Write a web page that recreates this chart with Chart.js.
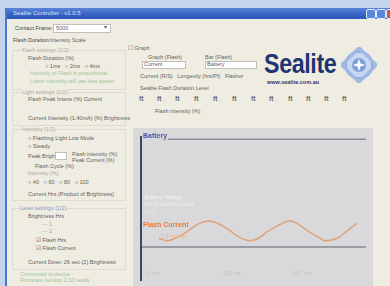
<!DOCTYPE html>
<html>
<head>
<meta charset="utf-8">
<script src="https://cdn.jsdelivr.net/npm/chart.js@4/dist/chart.umd.min.js"></script>
<style>
  body { margin: 0; width: 390px; height: 286px; overflow: hidden; background: #c3d5ee; font-family: "Liberation Sans", Arial, sans-serif; }
  #page { position: absolute; left: 0; top: 0; width: 390px; height: 286px; filter: blur(0.45px); }
  .win { position: absolute; left: 5px; top: 8px; width: 400px; height: 290px; background: #efede1; border-left: 2px solid #4f76cf; }
  .title { position: absolute; left: 0; top: 0; width: 400px; height: 11px; background: linear-gradient(#5b84d8, #3562c4 60%, #2f59b8); }
  .title span { position: absolute; left: 6px; top: 2px; color: #dfe8fa; font-size: 6px; }
  .btn { position: absolute; top: 1px; width: 8px; height: 8px; border-radius: 2px; background: #5a86dc; border: 1px solid #dfe8f8; }
  .t { position: absolute; font-size: 5.5px; color: #62625c; white-space: nowrap; }
  .g { color: #9cc49a; }
  .f { color: #a8a8a0; }
  .b { color: #8496cc; }
  .box { position: absolute; background: #fff; border: 1px solid #c0c0b8; }
  .grp { position: absolute; border: 1px solid #dedcd2; }
  .ico { position: absolute; top: 95px; font-size: 7px; font-weight: bold; color: #707070; }
  #panel { position: absolute; left: 133px; top: 128px; width: 240px; height: 158px; background: #d9d9dc; }
  #chart { position: absolute; left: 0; top: 0; }
  .lbl { position: absolute; font-size: 7px; font-weight: bold; white-space: nowrap; }
</style>
</head>
<body>
<div id="page">
<div class="win">
  <div class="title"><span>Sealite Controller - v1.0.5</span>
    <div class="btn" style="left:359px"></div>
    <div class="btn" style="left:369px"></div>
    <div class="btn" style="left:379px;background:#d9553a"></div>
  </div>
</div>

<!-- left settings column -->
<div class="t" style="left:15px;top:25px;color:#44443e">Contact Frame:</div>
<div class="box" style="left:53px;top:24px;width:56px;height:7px"></div>
<div class="t" style="left:56px;top:25px">5000</div>
<div class="t" style="left:104px;top:24px">&#9662;</div>
<div class="t" style="left:13px;top:37px;color:#44443e">Flash Duration:</div>
<div class="t" style="left:50px;top:37px">Intensity Scale</div>

<div class="grp" style="left:12px;top:50px;width:112px;height:38px"></div>
<div class="t f" style="left:22px;top:47px;background:#efede1">Flash settings (1/2)</div>
<div class="t" style="left:28px;top:55px">Flash Duration (%)</div>
<div class="t" style="left:45px;top:63px">&#9675; 1ms &nbsp; &#9675; 2ms &nbsp; &#9675; 4ms</div>
<div class="t g" style="left:30px;top:70px">Intensity of Flash is proportional</div>
<div class="t g" style="left:30px;top:78px">Lower intensity will use less power</div>

<div class="grp" style="left:12px;top:92px;width:112px;height:32px"></div>
<div class="t f" style="left:22px;top:89px;background:#efede1">Light settings (1/2)</div>
<div class="t" style="left:28px;top:96px">Flash Peak Intens (%) Current</div>
<div class="t" style="left:28px;top:115px">Current Intensity (1.40mA) (%) Brightness</div>

<div class="grp" style="left:12px;top:129px;width:112px;height:70px"></div>
<div class="t f" style="left:22px;top:126px;background:#efede1">Intensity (1/2)</div>
<div class="t" style="left:28px;top:135px">&#9675; Flashing Light Low Mode</div>
<div class="t" style="left:28px;top:143px">&#9675; Steady</div>
<div class="t" style="left:28px;top:153px">Peak Bright:</div>
<div class="box" style="left:55px;top:152px;width:10px;height:6px"></div>
<div class="t" style="left:72px;top:151px">Flash intensity (%)</div>
<div class="t" style="left:72px;top:157px">Peak Current (%)</div>
<div class="t" style="left:35px;top:163px">Flash Cycle (%)</div>
<div class="t f" style="left:28px;top:170px">Intensity (%)</div>
<div class="t" style="left:28px;top:179px">&#9675; 40 &nbsp; &#9675; 60 &nbsp; &#9675; 80 &nbsp; &#9675; 100</div>
<div class="t" style="left:28px;top:191px">Current Hrs (Product of Brightness)</div>

<div class="grp" style="left:12px;top:208px;width:112px;height:60px"></div>
<div class="t b" style="left:20px;top:205px;background:#efede1">Level settings (1/2)</div>
<div class="t" style="left:28px;top:213px">Brightness Hrs</div>
<div class="t f" style="left:42px;top:221px">--- 1</div>
<div class="t f" style="left:42px;top:228px">--- 2</div>
<div class="t" style="left:36px;top:237px">&#9745; Flash Hrs</div>
<div class="t" style="left:36px;top:245px">&#9745; Flash Current</div>
<div class="t" style="left:28px;top:259px">Current Dose: 26 sec (2) Brightness</div>
<div class="t g" style="left:20px;top:271px">Connected to device</div>
<div class="t g" style="left:20px;top:277px">Firmware version 2.10 ready</div>

<!-- graph options -->
<div class="t" style="left:128px;top:45px">&#9744; Graph</div>
<div class="t" style="left:148px;top:54px">Graph (Flash)</div>
<div class="t" style="left:205px;top:54px">Bar (Flash)</div>
<div class="box" style="left:142px;top:61px;width:42px;height:6px"></div>
<div class="t" style="left:144px;top:61px">Current</div>
<div class="box" style="left:205px;top:61px;width:50px;height:6px"></div>
<div class="t" style="left:207px;top:61px">Battery</div>
<div class="t" style="left:140px;top:73px">Current (R/S) &nbsp; Longevity (hrs/Pf) &nbsp; Flasher</div>
<div class="t" style="left:140px;top:85px">Sealite Flash Duration Level</div>
<div class="ico" style="left:139px">ft</div>
<div class="ico" style="left:157px">ft</div>
<div class="ico" style="left:175px">ft</div>
<div class="ico" style="left:194px">ft</div>
<div class="ico" style="left:213px">ft</div>
<div class="ico" style="left:232px">ft</div>
<div class="ico" style="left:251px">ft</div>
<div class="ico" style="left:269px">ft</div>
<div class="ico" style="left:288px">ft</div>
<div class="ico" style="left:306px">ft</div>
<div class="ico" style="left:324px">ft</div>
<div class="ico" style="left:342px">ft</div>
<div class="t" style="left:155px;top:108px">Flash intensity (%)</div>

<!-- logo -->
<div style="position:absolute;left:264px;top:48px;font-weight:bold;font-size:24px;color:#1f3472;transform:scale(0.97,1.12);transform-origin:top left;letter-spacing:-0.4px">Sealite</div>
<div style="position:absolute;left:267px;top:79px;font-size:5.5px;font-weight:bold;color:#2a3a70">www.sealite.com.au</div>
<svg style="position:absolute;left:341px;top:47px" width="36" height="36" viewBox="0 0 46 46">
  <circle cx="23" cy="23" r="17" fill="#c9d8f2" stroke="#8eaade" stroke-width="3"/>
  <path d="M23 1 L45 23 L23 45 L1 23 Z" fill="none" stroke="#9fb8e6" stroke-width="4"/>
  <circle cx="23" cy="23" r="9" fill="#7f9fda"/>
  <path d="M23 15 L25 21 L31 23 L25 25 L23 31 L21 25 L15 23 L21 21 Z" fill="#ffffff"/>
</svg>

<!-- chart panel -->
<div id="panel">
  <canvas id="chart" width="240" height="157"></canvas>
  <div class="lbl" style="left:10px;top:4px;color:#4a56aa">Battery</div>
  <div class="t" style="left:12px;top:66px;color:#f4f4f6">Battery Voltage</div>
  <div class="t" style="left:12px;top:73px;color:#eeeef2">Flash Current Level</div>
  <div class="t" style="left:12px;top:80px;color:#e4e4e8">Duty</div>
  <div class="lbl" style="left:10px;top:93px;color:#ea7a34">Flash Current</div>
  <div class="t" style="left:28px;top:105px;color:#e8b48c">0.5 mA/div</div>
  <div class="t" style="left:14px;top:142px;color:#c4c4c8">0 ms</div>
  <div class="t" style="left:90px;top:142px;color:#c4c4c8">100 ms</div>
  <div class="t" style="left:160px;top:142px;color:#c4c4c8">200 ms</div>
</div>
</div>

<script>
// Chart data (time in ms)
const timeMs = [8, 12, 16, 21, 25, 30, 34, 39, 43, 48, 52, 56, 61, 66, 70, 74, 79, 82, 87, 91, 96];
const flashCurrent = [8, 6, 9, 15, 21, 24, 22, 16, 10, 6, 8, 14, 20, 24, 21, 15, 9, 6, 8, 14, 22];
const batteryTime = [12, 30, 50, 70, 100];
const batteryLevel = [99, 99, 99, 99, 99];

const ctx = document.getElementById("chart").getContext("2d");

new Chart(ctx, {
  type: "line",
  data: {
    datasets: [
      {
        label: "Flash Current",
        data: timeMs.map((t, i) => ({ x: t, y: flashCurrent[i] })),
        borderColor: "#dfa27a",
        borderWidth: 1.5,
        pointRadius: 0,
        tension: 0.4,
      },
      {
        label: "Battery",
        data: batteryTime.map((t, i) => ({ x: t, y: batteryLevel[i] })),
        borderColor: "#8c8c96",
        borderWidth: 1.5,
        pointRadius: 0,
      },
    ],
  },
  options: {
    responsive: false,
    animation: false,
    devicePixelRatio: 1,
    layout: { padding: { left: 8, top: 9, right: 7, bottom: 5 } },
    plugins: { legend: { display: false }, tooltip: { enabled: false } },
    scales: {
      x: {
        type: "linear",
        min: 0,
        max: 100,
        ticks: { display: false },
        grid: { display: false, drawTicks: false },
        border: { display: false },
      },
      y: {
        type: "linear",
        min: -30,
        max: 101,
        ticks: { display: false, stepSize: 10 },
        grid: {
          drawTicks: false,
          lineWidth: 2,
          color: (c) => (c.tick && c.tick.value === 0 ? "#9c9ca4" : "transparent"),
        },
        border: { display: true, color: "#3e4670", width: 2 },
      },
    },
  },
});
</script>
</body>
</html>
